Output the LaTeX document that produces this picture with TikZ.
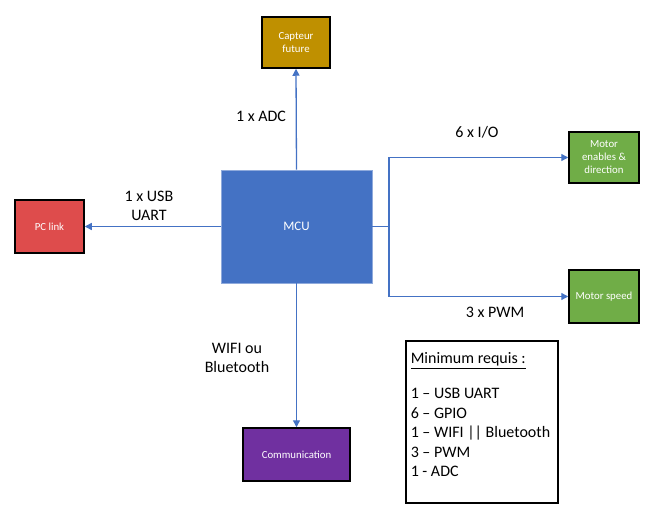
\documentclass[tikz,border=0pt]{standalone}
\usepackage{fontspec}
\setmainfont{Carlito}
\usetikzlibrary{arrows.meta}
\definecolor{McuClr}{RGB}{68,114,196}
\definecolor{McuEdge}{RGB}{143,170,220}
\definecolor{SensorClr}{RGB}{191,144,0}
\definecolor{LinkClr}{RGB}{222,76,76}
\definecolor{MotorClr}{RGB}{112,173,71}
\definecolor{ComClr}{RGB}{112,48,160}
\definecolor{WireClr}{RGB}{68,114,196}

\begin{document}
\begin{tikzpicture}[x=1pt,y=-1pt,
  block/.style={draw=black,line width=1.5pt,text=white,align=center,inner sep=0pt,
    font=\fontsize{10.8}{13}\selectfont},
  wire/.style={draw=WireClr,line width=1.3pt,-{Triangle[width=7pt,length=7pt]}},
  busname/.style={align=center,font=\fontsize{16}{18.5}\selectfont}]
\useasboundingbox (0,0) rectangle (652,526);

% blocks
\node[block,fill=McuClr,draw=McuEdge,line width=0.8pt,minimum width=151pt,minimum height=113pt,
  font=\fontsize{13}{13}\selectfont] (mcu) at (296.5,226.5) {MCU};
\node[block,fill=SensorClr,minimum width=68pt,minimum height=51pt] (sensor) at (296,42.5) {Capteur\\future};
\node[block,fill=LinkClr,minimum width=69pt,minimum height=53pt] (pclink) at (49.5,226.5) {PC link};
\node[block,fill=MotorClr,minimum width=70pt,minimum height=51pt] (menable) at (604,157.5) {Motor\\enables \&\\direction};
\node[block,fill=MotorClr,minimum width=70pt,minimum height=53pt] (mspeed) at (604,296.5) {Motor speed};
\node[block,fill=ComClr,minimum width=107pt,minimum height=53pt] (com) at (296.5,454.5) {Communication};

% connectors
\coordinate (split) at (389,226.5);
\draw[wire] (mcu.north) -- (sensor.south);
\draw[wire] (mcu.west) -- (pclink.east);
\draw[wire] (mcu.south) -- (com.north);
\draw[wire,-] (mcu.east) -- (split);
\draw[wire] (split) |- (menable.west);
\draw[wire] (split) |- (mspeed.west);

% bus labels
\node[busname] (adc) at (261,116) {1 x ADC};
\node[busname] (usb) at (149,206) {1 x USB\\UART};
\node[busname] (gpio) at (477,132) {6 x I/O};
\node[busname] (pwm) at (495,312) {3 x PWM};
\node[busname] (radio) at (237,358) {WIFI ou\\Bluetooth};

% summary
\node[draw=black,line width=1.5pt,minimum width=152pt,minimum height=162pt,inner sep=0pt,
  anchor=north west,font=\fontsize{16}{19.5}\selectfont] (needs) at (405,340)
  {\parbox[c][158pt][t]{142pt}{\vspace*{10pt}\underline{Minimum requis :}\\[15.5pt]
  1 -- USB UART\\
  6 -- GPIO\\
  1 -- WIFI || Bluetooth\\
  3 -- PWM\\
  1 - ADC}};

\end{tikzpicture}
\end{document}
